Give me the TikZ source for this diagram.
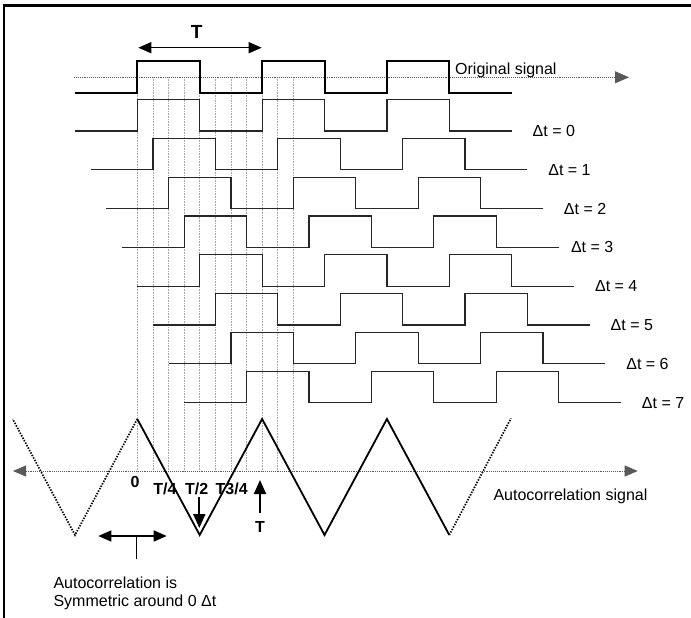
\documentclass[tikz,border=0pt]{standalone}
\usepackage{fontspec}
\setmainfont{Liberation Sans}
\usetikzlibrary{arrows.meta}

\begin{document}
\begin{tikzpicture}[x=1pt, y=-1pt,
    wave/.style={line width=1.2pt, black!85},
    orig/.style={line width=2pt},
    grid line/.style={densely dotted, gray!70, line width=0.6pt},
    axis/.style={densely dotted, gray!70!black, line width=0.9pt},
    tri/.style={line width=1.8pt},
    tri dots/.style={line width=1.7pt, dash pattern=on 1.4pt off 1.4pt},
    tip/.style={-{Triangle[length=14pt,width=12pt]}},
    both tips/.style={{Triangle[length=13pt,width=11pt]}-{Triangle[length=13pt,width=11pt]}},
    lbl/.style={font=\fontsize{16}{18.5}\selectfont},
    bold lbl/.style={font=\fontsize{16}{19}\selectfont\bfseries}]

    \useasboundingbox (0,0) rectangle (691,618);
    \draw[line width=2.4pt] (691,5.5) -- (4,5.5) -- (4,618);

    % time grid
    \foreach \i in {0,...,10}
      \draw[grid line] (137.3+15.6*\i, 77.3) -- (137.3+15.6*\i, 471);

    % original signal
    \coordinate (ax0) at (74, 77.3);
    \coordinate (ax1) at (629, 77.3);
    \draw[axis, tip] (ax0) -- (ax1);

    \coordinate (o0) at (74.9, 92.7);
    \draw[orig] (o0) foreach \n in {1,2,3} { -- ++(62.4,0) -- ++(0,-31.4) -- ++(62.4,0) -- ++(0,31.4) } -- ++(62.4,0) coordinate (o1);
    \node[lbl, anchor=base west, inner sep=0pt] (orig lbl) at (455, 74.5) {Original signal};

    % period
    \node[bold lbl, font=\fontsize{19}{22}\selectfont\bfseries] (period) at (196.7, 31.7) {T};
    \coordinate (t0) at (138.3, 47.7);
    \coordinate (t1) at (261.7, 47.7);
    \draw[both tips, line width=1.5pt] (t0) -- (t1);

    % shifted copies
    \foreach \k/\dx in {0/17.5,1/17.5,2/17.5,3/9,4/17.5,5/17.5,6/17.5,7/17.5} {
      \coordinate (s\k) at (74.9+15.6*\k, 131+38.8*\k);
      \draw[wave] (s\k) foreach \n in {1,2,3} { -- ++(62.4,0) -- ++(0,-31.4) -- ++(62.4,0) -- ++(0,31.4) } -- ++(62.4,0) coordinate (e\k);
      \node[lbl, anchor=west] (d\k) at ([xshift=\dx] e\k) {Δt = \k};
    }

    % autocorrelation
    \coordinate (a0) at (13, 471);
    \coordinate (a1) at (637.7, 471);
    \draw[axis, both tips] (a0) -- (a1);

    \coordinate (p0) at (137.3, 419);
    \draw[tri] (p0) foreach \n in {1,2} { -- ++(62.4,116) -- ++(62.4,-116) } -- ++(62.4,116) coordinate (p1);
    \draw[tri dots] (p1) -- ++(61.7,-116.7);
    \draw[tri dots] (p0) -- ++(-62.3,116) -- ++(-62.3,-116);

    \node[lbl, anchor=west] (ac lbl) at (490, 496) {Autocorrelation signal};

    \node[bold lbl] (zero) at (135, 481.7) {0};
    \node[bold lbl] (q1) at (165, 489.3) {T/4};
    \node[bold lbl] (q2) at (196.7, 489) {T/2};
    \node[bold lbl] (q3) at (231.7, 489) {T3/4};
    \node[bold lbl] (full) at (260, 527) {T};

    \coordinate (h0) at (199.3, 497);
    \coordinate (h1) at (199.3, 528);
    \draw[tip, line width=2pt] (h0) -- (h1);
    \coordinate (u0) at (260, 513);
    \coordinate (u1) at (260, 480);
    \draw[tip, line width=2pt] (u0) -- (u1);

    % symmetry note
    \coordinate (b0) at (98.3, 536);
    \coordinate (b1) at (166.7, 536);
    \draw[both tips, line width=1.5pt] (b0) -- (b1);
    \coordinate (bm) at (136, 536);
    \coordinate (bt) at (136, 559);
    \draw[line width=0.8pt] (bm) -- (bt);

    \node[lbl, align=left, anchor=north west] (sym) at (50, 573) {Autocorrelation is\\Symmetric around 0 Δt};
  \end{tikzpicture}
\end{document}
